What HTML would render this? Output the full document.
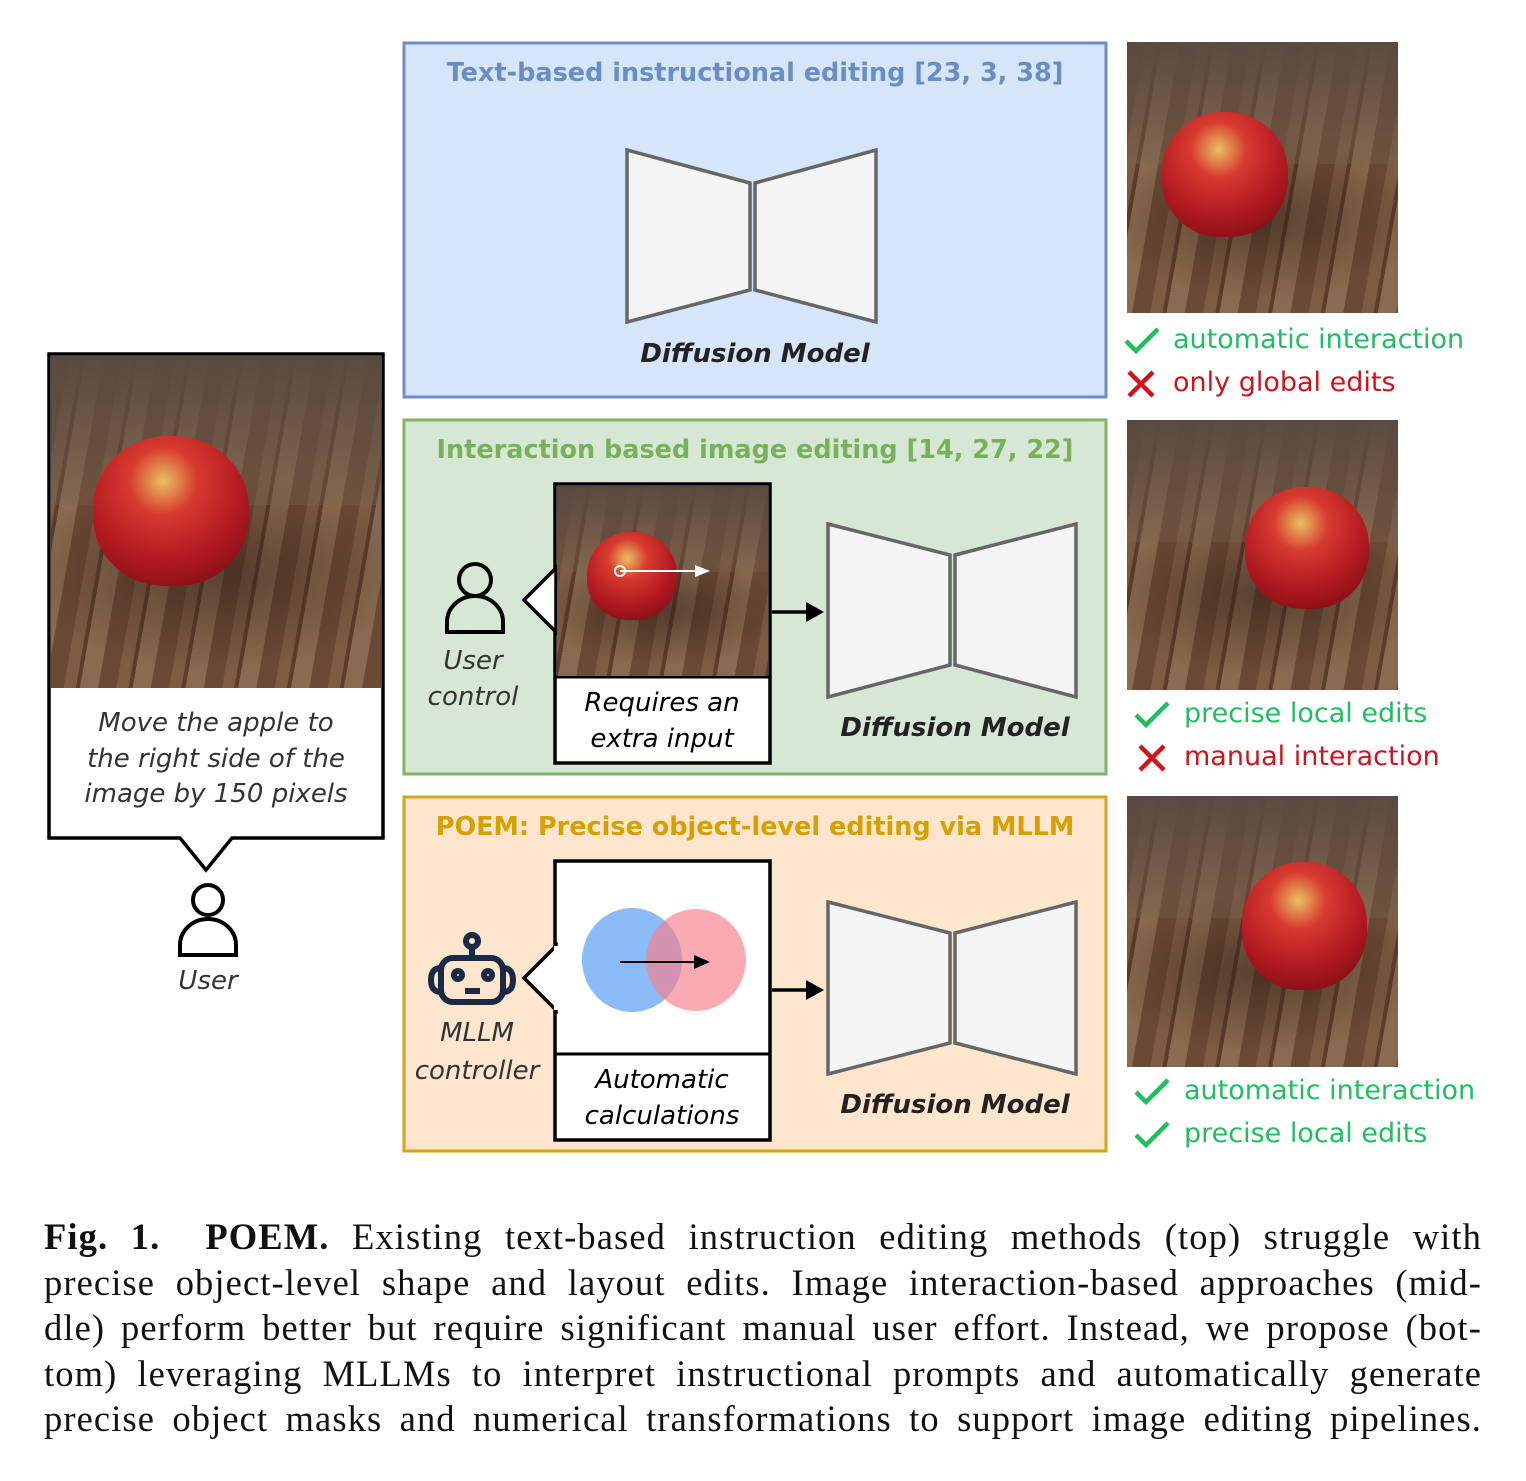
<!DOCTYPE html>
<html><head><meta charset="utf-8"><style>
body{margin:0;width:1526px;height:1481px;background:#fff;position:relative;overflow:hidden;font-family:"DejaVu Sans","Liberation Sans",sans-serif}
.a{position:absolute}
.t{position:absolute;white-space:nowrap;transform:translateX(-50%)}
.img{position:absolute;background:
 radial-gradient(ellipse 60% 30% at 50% 65%,rgba(40,25,15,.5),transparent),
 repeating-linear-gradient(100deg,#6b4a35 0 18px,#7e5c44 18px 30px,#5c3d2b 30px 34px,#8a6a50 34px 52px);}
.img::before{content:"";position:absolute;left:0;top:0;right:0;height:45%;background:linear-gradient(#5a4a40,rgba(120,100,80,.3));}
.apple{position:absolute;border-radius:48% 48% 46% 46%;background:radial-gradient(circle at 45% 30%,#e8c060 0,#d83a30 25%,#b01820 60%,#6a0a10 100%)}
.cap{position:absolute;left:44px;width:1438px;font-family:"Liberation Serif",serif;font-size:36.5px;letter-spacing:1.1px;line-height:45.5px;text-align:justify;text-align-last:justify;color:#111;white-space:nowrap}
.ok{color:#1fbf5f;font-size:27px}
.no{color:#d0141c;font-size:27px}
</style></head><body>
<svg class="a" style="left:0;top:0" width="1526" height="1481">
<rect x="404" y="43" width="702" height="354" fill="#d6e5f8" stroke="#6d8ec2" stroke-width="3"/>
<rect x="404" y="420" width="702" height="354" fill="#d6e8d5" stroke="#82b366" stroke-width="3"/>
<rect x="404" y="797" width="702" height="354" fill="#fde6cd" stroke="#d6a31c" stroke-width="3"/>
<g fill="#f4f4f4" stroke="#666" stroke-width="3.5">
<polygon points="627,150 750,183 750,290 627,322"/><polygon points="755,183 876,150 876,322 755,290"/>
<polygon points="828,524 950,555 950,665 828,697"/><polygon points="955,555 1076,524 1076,697 955,665"/>
<polygon points="828,902 950,933 950,1043 828,1074"/><polygon points="955,933 1076,902 1076,1074 955,1043"/>
</g>
<path d="M49,354 H383 V838 H232 L206,870 L180,838 H49 Z" fill="#fff" stroke="#000" stroke-width="3.5"/>
<rect x="555" y="484" width="215" height="279" fill="#fff" stroke="#000" stroke-width="3.5"/>
<polygon points="556,568 524,600 556,632" fill="#fff" stroke="#000" stroke-width="3.5"/>
<line x1="555" y1="677" x2="770" y2="677" stroke="#000" stroke-width="3"/>
<rect x="555" y="861" width="215" height="279" fill="#fff" stroke="#000" stroke-width="3.5"/>
<polygon points="556,946 524,978 556,1010" fill="#fff" stroke="#000" stroke-width="3.5"/>
<rect x="554" y="946" width="5" height="64" fill="#fff"/>
<line x1="555" y1="1054" x2="770" y2="1054" stroke="#000" stroke-width="3"/>
<g stroke="#000" stroke-width="3.5"><line x1="772" y1="612" x2="808" y2="612"/><line x1="772" y1="990" x2="808" y2="990"/></g>
<polygon points="806,602 824,612 806,622" fill="#000"/><polygon points="806,980 824,990 806,1000" fill="#000"/>
<g fill="none" stroke="#000" stroke-width="4">
<circle cx="208" cy="900" r="15"/><path d="M180,955 V945 A28,26 0 0 1 236,945 V955 Z"/>
<circle cx="475" cy="580" r="16"/><path d="M447,632 V622 A28,26 0 0 1 503,622 V632 Z"/>
</g>
<g fill="none" stroke="#1b2a44" stroke-width="6">
<circle cx="472" cy="941" r="6"/><line x1="472" y1="947" x2="472" y2="958"/>
<rect x="441" y="958" width="62" height="44" rx="12"/>
<path d="M441,968 q-10,0 -10,12 q0,12 10,12"/><path d="M503,968 q10,0 10,12 q0,12 -10,12"/>
<circle cx="458" cy="975" r="4"/><circle cx="488" cy="975" r="4"/><line x1="465" y1="991" x2="480" y2="991"/>
</g>
<ellipse cx="632" cy="960" rx="50" ry="52" fill="#5aa0f5" opacity=".7"/>
<ellipse cx="696" cy="960" rx="50" ry="51" fill="#f77c88" opacity=".65"/>
<line x1="620" y1="962" x2="695" y2="962" stroke="#000" stroke-width="2"/><polygon points="694,955 710,962 694,969" fill="#000"/>
<g stroke-width="4.5" fill="none">
<path d="M1126,341 l10,10 l22,-22" stroke="#1fbf5f"/><path d="M1129,372 l24,24 M1153,372 l-24,24" stroke="#d0141c"/>
<path d="M1136,715 l10,10 l22,-22" stroke="#1fbf5f"/><path d="M1140,746 l24,24 M1164,746 l-24,24" stroke="#d0141c"/>
<path d="M1136,1092 l10,10 l22,-22" stroke="#1fbf5f"/><path d="M1136,1135 l10,10 l22,-22" stroke="#1fbf5f"/>
</g>
</svg>
<div class="img" style="left:51px;top:356px;width:330px;height:332px"><div class="apple" style="left:42px;top:80px;width:156px;height:150px"></div></div>
<div class="img" style="left:557px;top:486px;width:211px;height:190px"><div class="apple" style="left:30px;top:46px;width:90px;height:88px"></div>
<svg class="a" style="left:0;top:0" width="211" height="190"><line x1="63" y1="85" x2="140" y2="85" stroke="#fff" stroke-width="2"/><circle cx="63" cy="85" r="5" fill="none" stroke="#fff" stroke-width="2"/><polygon points="138,79 153,85 138,91" fill="#fff"/></svg></div>
<div class="img" style="left:1127px;top:42px;width:271px;height:271px"><div class="apple" style="left:35px;top:70px;width:126px;height:125px"></div></div>
<div class="img" style="left:1127px;top:420px;width:271px;height:270px"><div class="apple" style="left:118px;top:67px;width:124px;height:122px"></div></div>
<div class="img" style="left:1127px;top:796px;width:271px;height:271px"><div class="apple" style="left:115px;top:66px;width:125px;height:128px"></div></div>

<div class="t" style="left:755px;top:58px;font-size:25.5px;font-weight:bold;color:#6a8dc3">Text-based instructional editing [23, 3, 38]</div>
<div class="t" style="left:755px;top:435px;font-size:25.5px;font-weight:bold;color:#78b15a">Interaction based image editing [14, 27, 22]</div>
<div class="t" style="left:755px;top:812px;font-size:25.5px;font-weight:bold;color:#d6a000">POEM: Precise object-level editing via MLLM</div>
<div class="t" style="left:755px;top:339px;font-size:26px;font-weight:bold;font-style:italic;color:#222">Diffusion Model</div>
<div class="t" style="left:955px;top:713px;font-size:26px;font-weight:bold;font-style:italic;color:#222">Diffusion Model</div>
<div class="t" style="left:955px;top:1090px;font-size:26px;font-weight:bold;font-style:italic;color:#222">Diffusion Model</div>
<div class="t" style="left:216px;top:706px;font-size:26px;font-style:italic;color:#333;text-align:center;line-height:35.5px">Move the apple to<br>the right side of the<br>image by 150 pixels</div>
<div class="t" style="left:208px;top:966px;font-size:26px;font-style:italic;color:#333">User</div>
<div class="t" style="left:473px;top:643px;font-size:26px;font-style:italic;color:#333;text-align:center;line-height:36px">User<br>control</div>
<div class="t" style="left:477px;top:1014px;font-size:26px;font-style:italic;color:#333;text-align:center;line-height:38px">MLLM<br>controller</div>
<div class="t" style="left:662px;top:685px;font-size:26px;font-style:italic;color:#000;text-align:center;line-height:36px">Requires an<br>extra input</div>
<div class="t" style="left:662px;top:1062px;font-size:26px;font-style:italic;color:#000;text-align:center;line-height:36px">Automatic<br>calculations</div>
<div class="a ok" style="left:1173px;top:324px">automatic interaction</div>
<div class="a no" style="left:1173px;top:367px">only global edits</div>
<div class="a ok" style="left:1184px;top:698px">precise local edits</div>
<div class="a no" style="left:1184px;top:741px">manual interaction</div>
<div class="a ok" style="left:1184px;top:1075px">automatic interaction</div>
<div class="a ok" style="left:1184px;top:1118px">precise local edits</div>

<div class="cap" style="top:1214px"><b>Fig. 1.&nbsp; POEM.</b> Existing text-based instruction editing methods (top) struggle with</div>
<div class="cap" style="top:1260px">precise object-level shape and layout edits. Image interaction-based approaches (mid-</div>
<div class="cap" style="top:1305px">dle) perform better but require significant manual user effort. Instead, we propose (bot-</div>
<div class="cap" style="top:1351px">tom) leveraging MLLMs to interpret instructional prompts and automatically generate</div>
<div class="cap" style="top:1396px">precise object masks and numerical transformations to support image editing pipelines.</div>
</body></html>
